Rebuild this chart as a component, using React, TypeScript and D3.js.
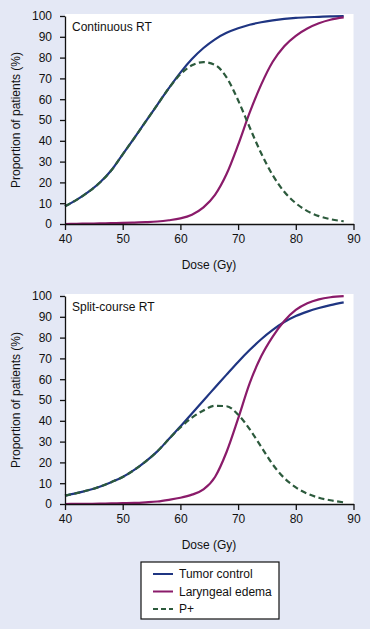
import React, { useEffect, useRef } from "react";
import * as d3 from "d3";

// dose values (Gy) sampled along each curve
const doses = [40, 42, 44, 46, 48, 50, 52, 54, 56, 58, 60, 62, 64, 66, 68, 70, 72, 74, 76, 78, 80, 82, 84, 86, 88.3];

// Continuous RT
const contTumor = [8.5, 11.6, 15.3, 19.8, 25.7, 33.5, 41.3, 49.3, 57.3, 65.3, 72.8, 79.3, 84.6, 88.8, 91.9, 94.1, 95.8, 97, 97.9, 98.6, 99.1, 99.4, 99.6, 99.8, 99.9];
const contEdema = [0, 0.1, 0.2, 0.3, 0.4, 0.5, 0.7, 0.9, 1.2, 1.8, 2.7, 4.5, 8, 14, 24, 38, 53.5, 67, 78, 85.5, 90.5, 94, 96.5, 98.2, 99.3];
const contP = [8.5, 11.6, 15.3, 19.8, 25.7, 33.5, 41.3, 49.3, 57.3, 65.3, 72, 76.3, 77.8, 76.5, 70.5, 59.5, 46.5, 34, 23.5, 15.5, 10, 6.2, 3.8, 2.3, 1.3];

// Split-course RT
const splitTumor = [4, 5.2, 6.6, 8.3, 10.5, 13, 16.4, 20.5, 25.3, 31.2, 37.3, 43.5, 49.8, 56, 62.2, 68.3, 74, 79.2, 83.7, 87.5, 90.4, 92.5, 94.2, 95.6, 96.9];
const splitEdema = [0, 0.05, 0.1, 0.2, 0.3, 0.4, 0.5, 0.8, 1.2, 2, 3, 4.5, 7, 13, 25, 41, 58, 71, 80.5, 88, 93.3, 96.5, 98.4, 99.4, 99.9];
const splitP = [4, 5.2, 6.6, 8.3, 10.5, 13, 16.4, 20.5, 25.3, 31.2, 36.8, 41.5, 45, 47.2, 47, 43, 36, 27.5, 19, 12.5, 8, 5, 3, 1.8, 0.8];

const xTicks = [40, 50, 60, 70, 80, 90];
const yTicks = [0, 10, 20, 30, 40, 50, 60, 70, 80, 90, 100];

const seriesNames = ["Tumor control", "Laryngeal edema", "P+"];
const colors = ["#1f3582", "#8a1b6a", "#2c5a3c"];

const panels = [
  { title: "Continuous RT", top: 16, series: [contTumor, contEdema, contP] },
  { title: "Split-course RT", top: 296, series: [splitTumor, splitEdema, splitP] },
];

const App = () => {
  const ref = useRef(null);

  useEffect(() => {
    if (ref.current) drawChart(ref.current);
  }, []);

  return (
    <div style={{ position: "absolute", left: 0, top: 0, width: 370, height: 629 }}>
      <svg ref={ref} width={370} height={629} style={{ display: "block" }} />
    </div>
  );
};

function drawChart(node) {
  const root = d3.select(node);
  root.selectAll("*").remove();

  root.append("rect").attr("width", 370).attr("height", 629).attr("fill", "#e4e8f5");

  const left = 65;
  const right = 353.5;
  const plotH = 208;
  const font = "Liberation Sans, Arial, sans-serif";

  panels.forEach((p) => {
    const g = root.append("g").attr("transform", `translate(0,${p.top})`);
    const x = d3.scaleLinear().domain([40, 90]).range([left, right]);
    const y = d3.scaleLinear().domain([0, 100]).range([plotH, 0]);

    // white plot area
    g.append("rect")
      .attr("x", left)
      .attr("y", -2)
      .attr("width", right - left)
      .attr("height", plotH + 2)
      .attr("fill", "#fff");

    const line = d3
      .line()
      .x((d, i) => x(doses[i]))
      .y((d) => y(d))
      .curve(d3.curveMonotoneX);

    p.series.forEach((vals, i) => {
      g.append("path")
        .datum(vals)
        .attr("fill", "none")
        .attr("stroke", colors[i])
        .attr("stroke-width", 2.2)
        .attr("stroke-dasharray", i === 2 ? "6,3.5" : null)
        .attr("d", line);
    });

    // axes
    const yAxis = g
      .append("g")
      .attr("transform", `translate(${left},0)`)
      .call(d3.axisLeft(y).tickValues(yTicks).tickSize(5).tickPadding(8).tickSizeOuter(0));
    const xAxis = g
      .append("g")
      .attr("transform", `translate(0,${plotH})`)
      .call(d3.axisBottom(x).tickValues(xTicks).tickSize(6).tickPadding(4).tickSizeOuter(0));

    [yAxis, xAxis].forEach((a) => {
      a.selectAll("path, line").attr("stroke", "#111").attr("stroke-width", 1.3);
      a.selectAll("text").attr("fill", "#111").style("font-family", font).style("font-size", "12px");
    });

    g.append("text")
      .attr("x", left + 7)
      .attr("y", 15)
      .style("font-family", font)
      .style("font-size", "12px")
      .attr("fill", "#111")
      .text(p.title);

    g.append("text")
      .attr("x", 209)
      .attr("y", plotH + 45)
      .attr("text-anchor", "middle")
      .style("font-family", font)
      .style("font-size", "12px")
      .attr("fill", "#111")
      .text("Dose (Gy)");

    g.append("text")
      .attr("transform", `translate(20,${plotH / 2}) rotate(-90)`)
      .attr("text-anchor", "middle")
      .style("font-family", font)
      .style("font-size", "12px")
      .attr("fill", "#111")
      .text("Proportion of patients (%)");
  });

  // legend
  const lg = root.append("g").attr("transform", "translate(141,562)");
  lg.append("rect")
    .attr("width", 138)
    .attr("height", 57)
    .attr("fill", "#fff")
    .attr("stroke", "#111")
    .attr("stroke-width", 1.2);

  seriesNames.forEach((name, i) => {
    const yy = 12 + i * 17.5;
    lg.append("line")
      .attr("x1", 12)
      .attr("x2", 32)
      .attr("y1", yy)
      .attr("y2", yy)
      .attr("stroke", colors[i])
      .attr("stroke-width", 2)
      .attr("stroke-dasharray", i === 2 ? "5,3" : null);
    lg.append("text")
      .attr("x", 38)
      .attr("y", yy + 4)
      .style("font-family", font)
      .style("font-size", "12px")
      .attr("fill", "#111")
      .text(name);
  });
}

export default App;
